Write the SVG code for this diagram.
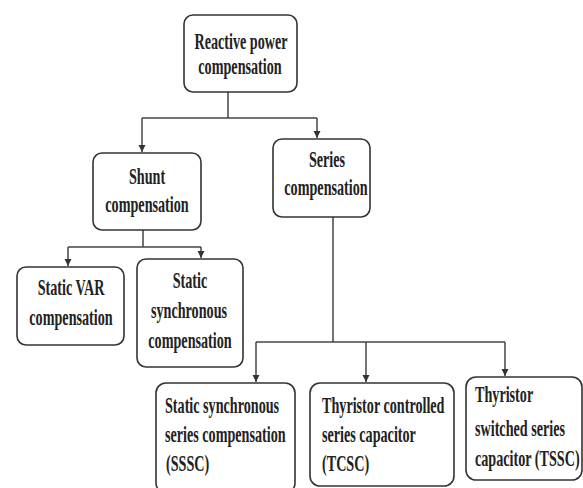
<svg xmlns="http://www.w3.org/2000/svg" width="583" height="488" viewBox="0 0 583 488">
<style>
.box{fill:#fff;stroke:#333;stroke-width:1.6}
text{font-family:"Liberation Serif","DejaVu Serif",serif;font-size:24px;font-weight:bold;fill:#222}
.c{text-anchor:middle}
.ln{fill:none;stroke:#444;stroke-width:1.5}
</style>
<defs>
<marker id="ah" markerWidth="8" markerHeight="8" refX="7" refY="4" orient="auto" markerUnits="userSpaceOnUse">
<path d="M0,0.5 L7,4 L0,7.5 Z" fill="#333"/>
</marker>
</defs>
<rect width="583" height="488" fill="#fff"/>
<g id="connectors">
<path class="ln" d="M228,92 V118"/>
<path class="ln" d="M142,118 H317"/>
<path class="ln" d="M142,118 V152" marker-end="url(#ah)"/>
<path class="ln" d="M317,118 V138" marker-end="url(#ah)"/>
<path class="ln" d="M143,230 V247"/>
<path class="ln" d="M68,247 H201"/>
<path class="ln" d="M68,247 V266" marker-end="url(#ah)"/>
<path class="ln" d="M201,247 V258" marker-end="url(#ah)"/>
<path class="ln" d="M333,217 V342"/>
<path class="ln" d="M256,342 H505"/>
<path class="ln" d="M256,342 V382" marker-end="url(#ah)"/>
<path class="ln" d="M366,342 V382" marker-end="url(#ah)"/>
<path class="ln" d="M505,342 V376" marker-end="url(#ah)"/>
</g>
<g id="reactive">
<rect class="box" x="184" y="15" width="113" height="77" rx="9"/>
<text class="c" transform="matrix(0.59,0,0,1,241,49)">Reactive power</text>
<text class="c" transform="matrix(0.59,0,0,1,240,74)">compensation</text>
</g>
<g id="shunt">
<rect class="box" x="93" y="153" width="108" height="77" rx="9"/>
<text class="c" transform="matrix(0.59,0,0,1,147,184)">Shunt</text>
<text class="c" transform="matrix(0.59,0,0,1,147,212)">compensation</text>
</g>
<g id="series">
<rect class="box" x="273" y="139" width="97" height="78" rx="9"/>
<text class="c" transform="matrix(0.59,0,0,1,327,167)">Series</text>
<text class="c" transform="matrix(0.59,0,0,1,326,195)">compensation</text>
</g>
<g id="svc">
<rect class="box" x="17" y="267" width="107" height="78" rx="9"/>
<text class="c" transform="matrix(0.59,0,0,1,71,295)">Static VAR</text>
<text class="c" transform="matrix(0.59,0,0,1,71,325)">compensation</text>
</g>
<g id="statcom">
<rect class="box" x="137" y="259" width="106" height="108" rx="9"/>
<text class="c" transform="matrix(0.59,0,0,1,190,288)">Static</text>
<text class="c" transform="matrix(0.59,0,0,1,189,318)">synchronous</text>
<text class="c" transform="matrix(0.59,0,0,1,190,348)">compensation</text>
</g>
<g id="sssc">
<rect class="box" x="156" y="383" width="139" height="110" rx="10"/>
<text transform="matrix(0.59,0,0,1,165,413)">Static synchronous</text>
<text transform="matrix(0.59,0,0,1,165,442)">series compensation</text>
<text transform="matrix(0.59,0,0,1,166,471)">(SSSC)</text>
</g>
<g id="tcsc">
<rect class="box" x="310" y="383" width="144" height="103" rx="10"/>
<text transform="matrix(0.59,0,0,1,322,413)">Thyristor controlled</text>
<text transform="matrix(0.59,0,0,1,322,442)">series capacitor</text>
<text transform="matrix(0.59,0,0,1,322,471)">(TCSC)</text>
</g>
<g id="tssc">
<rect class="box" x="466" y="377" width="116" height="103" rx="10"/>
<text transform="matrix(0.59,0,0,1,475,402)">Thyristor</text>
<text transform="matrix(0.59,0,0,1,475,436)">switched series</text>
<text transform="matrix(0.59,0,0,1,475,466)">capacitor (TSSC)</text>
</g>
</svg>
